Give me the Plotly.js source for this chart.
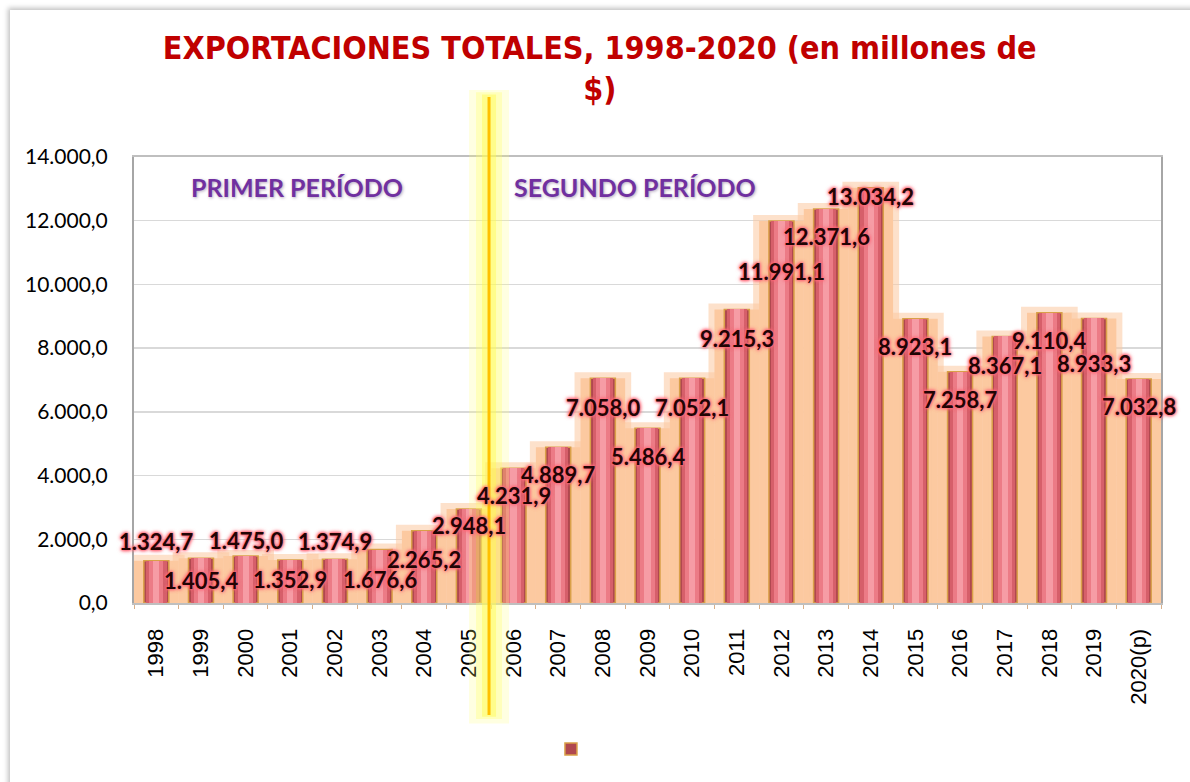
<!DOCTYPE html>
<html>
<head>
<meta charset="utf-8">
<script src="https://cdn.plot.ly/plotly-3.0.1.min.js"></script>
<style>
  html, body { margin: 0; padding: 0; background: #ffffff; }
  #frame { position: absolute; left: 10px; top: 10px; width: 1260px; height: 860px;
           box-shadow: -2px -2px 5px rgba(0,0,0,0.25); background: #fff; }
  #chart { position: absolute; left: 0; top: 0; width: 1190px; height: 782px; }
</style>
</head>
<body>
<div id="frame"></div>
<div id="chart"></div>
<script>
// ---- data ----
const years = ['1998','1999','2000','2001','2002','2003','2004','2005','2006','2007','2008',
               '2009','2010','2011','2012','2013','2014','2015','2016','2017','2018','2019','2020(p)'];
const exportsTotal = [1324.7, 1405.4, 1475.0, 1352.9, 1374.9, 1676.6, 2265.2, 2948.1, 4231.9, 4889.7, 7058.0,
                      5486.4, 7052.1, 9215.3, 11991.1, 12371.6, 13034.2, 8923.1, 7258.7, 8367.1, 9110.4, 8933.3, 7032.8];
const yTickVals = [0, 2000, 4000, 6000, 8000, 10000, 12000, 14000];
const titleText = 'EXPORTACIONES TOTALES, 1998-2020 (en millones de<br>$)';
const periodLabels = ['PRIMER PERÍODO', 'SEGUNDO PERÍODO'];

// ---- style (label offsets in px below bar top) ----
const labelDrop = [-19, 22, -16, 20, -18, 30, 29, 16, 27, 27, 29, 28, 29, 29, 50, 28, 9, 28, 28, 29, 28, 45, 28];

function fmt(v) {
  const parts = v.toFixed(1).split('.');
  const intPart = parts[0].replace(/\B(?=(\d{3})+(?!\d))/g, '.');
  return intPart + ',' + parts[1];
}

function barLayer(width, color, extra) {
  return Object.assign({
    type: 'bar', x: years.slice(), y: exportsTotal.slice(), width: width,
    marker: { color: color, line: { width: 0 } },
    hoverinfo: 'skip', showlegend: false
  }, extra || {});
}

const traces = [
  barLayer(1.0, '#FCC9A0', { marker: { color: '#FCC9A0', line: { color: 'rgba(252,201,160,0.55)', width: 12 } } }),
  barLayer(0.56, '#B0484F', { name: ' ', showlegend: true,
      marker: { color: '#B0484F', line: { color: '#D9A048', width: 1.5 } } }),
  barLayer(0.46, '#D65F6A'),
  barLayer(0.32, '#EC7B86'),
  barLayer(0.14, '#F69CA5')
];

const labelFont = { family: 'Lato, "Open Sans", sans-serif', size: 22, color: '#220404', weight: 'bold',
  shadow: '0 0 4px #FF6A7A, 0 0 4px #FF6A7A, 0 0 3px #FF6A7A, 0 0 2px #FF6A7A' };

// category axis: annotations use the category serial number
const annotations = years.map((yr, i) => ({
  x: i, y: exportsTotal[i], xref: 'x', yref: 'y',
  text: fmt(exportsTotal[i]), showarrow: false,
  yanchor: 'middle', xanchor: 'center', yshift: -labelDrop[i],
  font: labelFont
}));

const periodFont = { family: 'Lato, "Open Sans", sans-serif', size: 25, color: '#7030A0', weight: 'bold',
  shadow: '1px 1px 3px rgba(90,60,110,0.45)' };
annotations.push({ x: 0.159, y: 0.933, xref: 'paper', yref: 'paper', text: periodLabels[0],
  xanchor: 'center', yanchor: 'middle', showarrow: false, font: periodFont });
annotations.push({ x: 0.488, y: 0.933, xref: 'paper', yref: 'paper', text: periodLabels[1],
  xanchor: 'center', yanchor: 'middle', showarrow: false, font: periodFont });

const lineX = 0.3457;
const shapes = [
  { type: 'line', xref: 'paper', yref: 'paper', x0: lineX, x1: lineX, y0: -0.27, y1: 1.15,
    line: { color: 'rgba(255,255,120,0.22)', width: 40 } },
  { type: 'line', xref: 'paper', yref: 'paper', x0: lineX, x1: lineX, y0: -0.26, y1: 1.145,
    line: { color: 'rgba(255,255,100,0.3)', width: 26 } },
  { type: 'line', xref: 'paper', yref: 'paper', x0: lineX, x1: lineX, y0: -0.255, y1: 1.14,
    line: { color: 'rgba(255,250,80,0.45)', width: 14 } },
  { type: 'line', xref: 'paper', yref: 'paper', x0: lineX, x1: lineX, y0: -0.251, y1: 1.1345,
    line: { color: '#FFC000', width: 3 } }
];

const layout = {
  width: 1190, height: 782,
  paper_bgcolor: 'rgba(0,0,0,0)', plot_bgcolor: '#ffffff',
  margin: { l: 134, r: 29, t: 157, b: 179 },
  separators: ',.',
  barmode: 'overlay', bargap: 0,
  font: { family: 'Lato, "Open Sans", sans-serif', color: '#000' },
  title: {
    text: titleText,
    font: { family: '"DejaVu Sans Condensed", "DejaVu Sans", sans-serif', size: 32, color: '#C00000', weight: 'bold' },
    x: 0.504, xref: 'container', xanchor: 'center',
    y: 0.925, yref: 'container', yanchor: 'top'
  },
  xaxis: {
    type: 'category', range: [-0.5, 22.5], tickangle: -90,
    tickfont: { family: '"Liberation Sans", Arial, sans-serif', size: 22, color: '#000' },
    ticks: 'outside', ticklen: 4, tickcolor: '#D9B08A', tickson: 'boundaries',
    showline: true, linecolor: '#BFBFBF', linewidth: 2, mirror: true,
    showgrid: false, ticklabelstandoff: 15, fixedrange: true
  },
  yaxis: {
    range: [0, 14000], tickvals: yTickVals, tickformat: ',.1f',
    tickfont: { family: 'Lato, "Open Sans", sans-serif', size: 21, color: '#000' },
    showgrid: true, gridcolor: '#D9D9D9', gridwidth: 1.5,
    showline: true, linecolor: '#A6A6A6', linewidth: 2, mirror: true,
    ticks: '', ticklabelstandoff: 20, zeroline: false, fixedrange: true
  },
  showlegend: true,
  legend: { orientation: 'h', x: 0.406, y: -0.328, xanchor: 'left', yanchor: 'middle',
            bgcolor: 'rgba(0,0,0,0)', font: { size: 14 } },
  annotations: annotations,
  shapes: shapes
};

Plotly.newPlot('chart', traces, layout, { displayModeBar: false, staticPlot: true });
</script>
</body>
</html>
